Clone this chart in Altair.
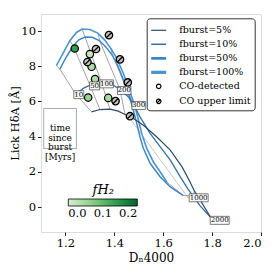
import altair as alt
import pandas as pd

# ---------------- data ----------------
LEG = ["fburst=5%", "fburst=10%", "fburst=50%", "fburst=100%", "CO-detected", "CO upper limit"]
LINE_COLORS = ["#2c4b6b", "#3871a0", "#3b86c4", "#4a95cf", "black", "black"]
LINE_WIDTHS = [1.2, 1.6, 2.8, 3.4]
CIRCLE = "M0.3,0A0.3,0.3,0,1,1,-0.3,0A0.3,0.3,0,1,1,0.3,0Z"
HATCHED = CIRCLE + "M-0.21,0.21L0.21,-0.21"
# legend line samples of increasing thickness (stacked strokes)
SAMPLE_5 = "M-1,0H1"
SAMPLE_10 = "M-1,-0.027H1M-1,0.027H1"
SAMPLE_50 = "M-1,-0.1H1M-1,0H1M-1,0.1H1"
SAMPLE_100 = "M-1,-0.13H1M-1,-0.065H1M-1,0H1M-1,0.065H1M-1,0.13H1"
SHAPES = [SAMPLE_5, SAMPLE_10, SAMPLE_50, SAMPLE_100, CIRCLE, HATCHED]

# burst tracks (Dn4000, HdA, age in Myr; 0 = no isochrone point)
t100_x = [1.163, 1.190, 1.218, 1.245, 1.268, 1.300, 1.334, 1.360, 1.385, 1.410, 1.437, 1.464, 1.485, 1.499, 1.512, 1.533, 1.560, 1.588, 1.615]
t100_y = [8.03, 8.73, 9.45, 9.92, 10.12, 10.09, 9.87, 9.50, 9.03, 8.45, 7.59, 6.55, 5.69, 4.93, 4.17, 3.32, 2.56, 1.99, 1.42]
t100_a = [10, 0, 50, 0, 100, 0, 200, 0, 300, 0, 0, 0, 0, 0, 0, 0, 0, 0, 1000]

t50_x = [1.177, 1.204, 1.232, 1.255, 1.280, 1.310, 1.340, 1.365, 1.393, 1.415, 1.435, 1.458, 1.478, 1.492, 1.505, 1.519, 1.547, 1.588, 1.629, 1.681]
t50_y = [7.84, 8.54, 9.15, 9.50, 9.66, 9.65, 9.45, 9.10, 8.60, 8.00, 7.30, 6.45, 5.50, 4.74, 3.98, 3.32, 2.47, 1.71, 1.14, 0.66]
t50_a = [10, 0, 50, 0, 100, 0, 200, 0, 300, 0, 0, 0, 0, 0, 0, 0, 0, 0, 0, 1000]

t10_x = [1.242, 1.273, 1.300, 1.348, 1.389, 1.423, 1.458, 1.478, 1.505, 1.547, 1.588, 1.629, 1.670, 1.700, 1.722, 1.752, 1.793]
t10_y = [6.41, 6.74, 6.93, 7.06, 6.98, 6.68, 6.26, 5.83, 5.12, 4.17, 3.42, 2.66, 1.71, 1.05, 0.62, 0.05, -0.57]
t10_a = [10, 0, 50, 100, 0, 200, 0, 300, 0, 0, 0, 0, 0, 0, 1000, 0, 2000]

t5_x = [1.307, 1.341, 1.382, 1.416, 1.444, 1.478, 1.519, 1.574, 1.629, 1.677, 1.705, 1.728, 1.752, 1.793]
t5_y = [5.41, 5.54, 5.56, 5.45, 5.26, 5.03, 4.65, 3.98, 3.23, 2.28, 1.55, 0.90, 0.38, -0.57]
t5_a = [10, 50, 100, 0, 200, 300, 0, 0, 0, 0, 0, 1000, 0, 2000]

# faint straight guide between the tracks
guide_x = [1.455, 1.704]
guide_y = [5.20, 0.48]

# galaxies
det_x = [1.238, 1.300, 1.307, 1.321, 1.293, 1.375]
det_y = [9.01, 8.69, 7.97, 7.27, 6.22, 6.20]
det_f = [0.14, 0.02, 0.04, 0.04, 0.06, 0.045]

ul_x = [1.378, 1.325, 1.290, 1.423, 1.455, 1.405, 1.464]
ul_y = [9.77, 8.98, 8.24, 8.39, 7.08, 6.02, 5.16]

# isochrone labels
lab_text = ["10", "50", "100", "200", "300", "1000", "2000"]
lab_x = [1.2547, 1.3192, 1.3685, 1.4404, 1.4992, 1.745, 1.831]
lab_y = [6.386, 6.887, 7.00, 6.625, 5.77, 0.524, -0.757]

# "time since burst" annotation
note_text = ["time\nsince\nburst\n[Myrs]"]
note_box = {"x": [1.111], "x2": [1.245], "y": [5.60], "y2": [3.32]}

# ---------------- tables ----------------
rows = []
for name, xs_, ys_, ages, rank in [
    (LEG[3], t100_x, t100_y, t100_a, 0),
    (LEG[2], t50_x, t50_y, t50_a, 1),
    (LEG[1], t10_x, t10_y, t10_a, 2),
    (LEG[0], t5_x, t5_y, t5_a, 3),
]:
    for i, (x, y, a) in enumerate(zip(xs_, ys_, ages)):
        rows.append({"x": x, "y": y, "age": a, "legend": name, "idx": i, "rank": rank})
tracks = pd.DataFrame(rows)
iso = tracks[tracks.age > 0].copy()
guide = pd.DataFrame({"x": guide_x, "y": guide_y, "idx": list(range(len(guide_x)))})

det = pd.DataFrame({"x": det_x, "y": det_y, "fH2": det_f, "legend": LEG[4]})
ul = pd.DataFrame({"x": ul_x, "y": ul_y, "legend": LEG[5]})
labs = pd.DataFrame({"x": lab_x, "y": lab_y, "label": lab_text})
note = pd.DataFrame({"x": [1.178], "y": [4.49], "text": note_text})
nbox = pd.DataFrame(note_box)

FONT = "DejaVu Serif"
xs = alt.Scale(domain=[1.1, 2.0], nice=False, zero=False)
ys = alt.Scale(domain=[-1.42, 10.97], nice=False, zero=False)
xax = alt.Axis(values=[1.2, 1.4, 1.6, 1.8, 2.0], format=".1f", title="Dₙ4000", grid=False,
               tickSize=3.5, domain=False, labelFont=FONT, labelFontSize=11.5, titleFont=FONT,
               titleFontSize=12, titleFontWeight="normal", labelColor="black", titleColor="black",
               tickColor="#222", labelPadding=2, titlePadding=3)
yax = alt.Axis(values=[0, 2, 4, 6, 8, 10], format="d", title="Lick HδA [Å]", grid=False,
               tickSize=3.5, domain=False, labelFont=FONT, labelFontSize=11.5, titleFont=FONT,
               titleFontSize=11.5, titleFontWeight="normal", labelColor="black", titleColor="black",
               tickColor="#222", labelPadding=2, titlePadding=0)

X = alt.X("x:Q", scale=xs, axis=xax)
Y = alt.Y("y:Q", scale=ys, axis=yax)

leg = alt.Legend(orient="none", legendX=105.7, legendY=4.3, title=None, strokeColor="#333",
                 fillColor="white", cornerRadius=3, padding=3.5, symbolSize=225,
                 symbolFillColor="white", symbolStrokeWidth=1.2, labelFont=FONT,
                 labelFontSize=9.5, labelOffset=12, rowPadding=1, labelColor="black")
stroke_enc = alt.Stroke("legend:N", scale=alt.Scale(domain=LEG, range=LINE_COLORS), legend=leg)
sw_enc = alt.StrokeWidth("legend:O", scale=alt.Scale(domain=LEG[:4], range=LINE_WIDTHS), legend=None)
shape_enc = alt.Shape("legend:N", scale=alt.Scale(domain=LEG, range=SHAPES), legend=leg)

grad = alt.Legend(orient="none", legendX=27.3, legendY=170, direction="horizontal", title="fH₂",
                  titleFont=FONT, titleFontStyle="italic", titleFontSize=13, titleFontWeight="normal",
                  titleAnchor="middle", titleColor="black", gradientLength=69, gradientThickness=7,
                  gradientStrokeColor="black", gradientStrokeWidth=0.8, values=[0, 0.1, 0.2],
                  format=".1f", labelFont=FONT, labelFontSize=11.5, labelAlign="center",
                  labelOffset=2, padding=0, titlePadding=2, labelColor="black")

iso_layer = alt.Chart(iso).mark_line(color="#555", strokeWidth=0.6, opacity=0.9).encode(
    x=X, y=Y, detail="age:N", order="rank:Q")
guide_layer = alt.Chart(guide).mark_line(color="#bbb", strokeWidth=0.8).encode(
    x=X, y=Y, order="idx:Q")

track_layer = alt.Chart(tracks).mark_line().encode(
    x=X, y=Y, stroke=stroke_enc, strokeWidth=sw_enc, order="idx:Q")

det_layer = alt.Chart(det).mark_point(filled=True, size=610, strokeWidth=1.2, opacity=1).encode(
    x=X, y=Y, shape=shape_enc, stroke=stroke_enc,
    fill=alt.Fill("fH2:Q", scale=alt.Scale(scheme="greens", domain=[0, 0.2]), legend=grad))

ul_layer = alt.Chart(ul).mark_point(filled=True, size=610, strokeWidth=1.3, opacity=1, fill="#c4c4c4").encode(
    x=X, y=Y, shape=shape_enc, stroke=stroke_enc)

box_layers = []
for n, w in [(2, 10), (3, 13.5), (4, 19)]:
    box_layers.append(
        alt.Chart(labs).transform_filter(f"length(datum.label) == {n}")
        .mark_rect(width=w, height=8, fill="white", fillOpacity=0.9, stroke="#444", strokeWidth=0.7)
        .encode(x=X, y=Y))
lab_text_layer = alt.Chart(labs).mark_text(font=FONT, fontSize=7, color="black").encode(
    x=X, y=Y, text="label:N")

nbox_layer = alt.Chart(nbox).mark_rect(fill="white", stroke="#aaa", strokeWidth=1).encode(
    x=X, x2="x2:Q", y=Y, y2="y2:Q")
note_layer = alt.Chart(note).mark_text(font=FONT, fontSize=9, lineBreak="\n", lineHeight=9.6,
                                       color="black", baseline="middle").encode(
    x=X, y=Y, text="text:N")

chart = alt.layer(guide_layer, iso_layer, track_layer, det_layer, ul_layer, *box_layers,
                  lab_text_layer, nbox_layer, note_layer).properties(
    width=220, height=218,
    autosize=alt.AutoSizeParams(type="none"),
    padding={"left": 33, "top": 6, "right": 5, "bottom": 34},
).configure_view(stroke="#333", strokeWidth=1).configure(background="white")

chart.save("out.html", embed_options={"renderer": "svg", "actions": False})
